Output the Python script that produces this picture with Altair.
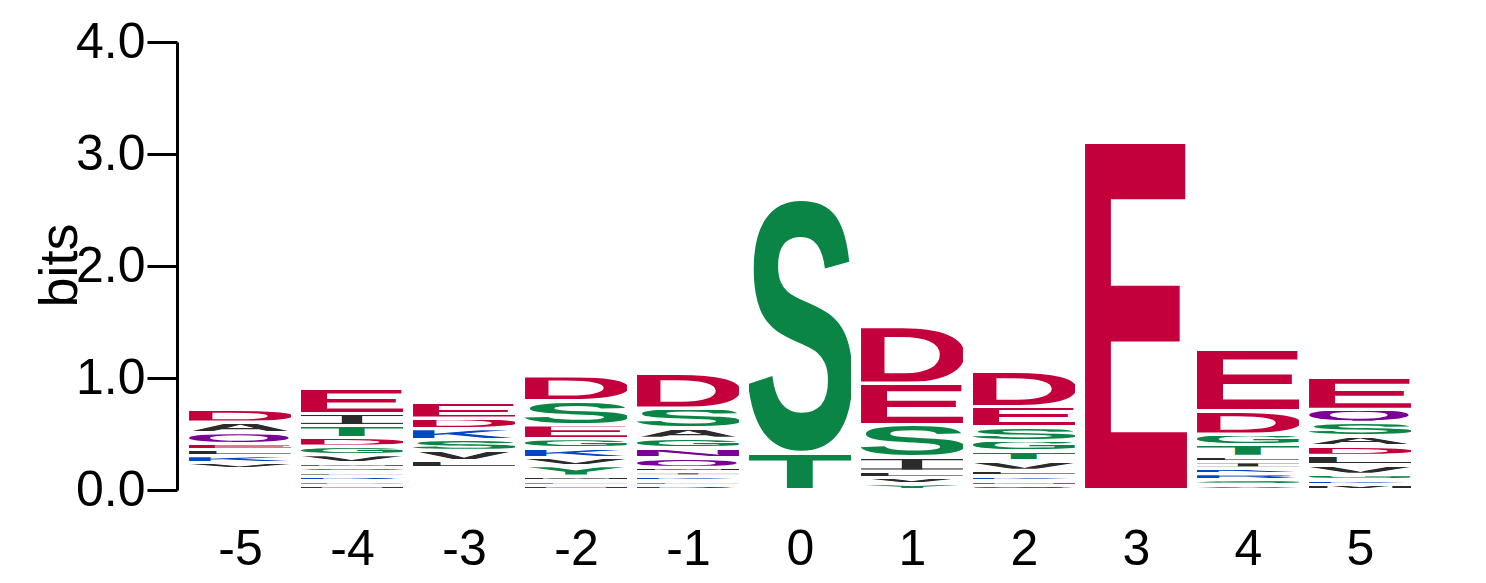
import base64
import altair as alt
import pandas as pd

# ---- data (bottom -> top in each column, heights in bits) ----
positions = [-5, -4, -3, -2, -1, 0, 1, 2, 3, 4, 5]

letters_m5 = ["V", "K", "L", "E", "Q", "A", "D"]
bits_m5 = [0.027, 0.033, 0.029, 0.027, 0.069, 0.069, 0.089]

letters_m4 = ["N", "P", "R", "L", "S", "M", "V", "G", "D", "T", "I", "E"]
bits_m4 = [0.013, 0.013, 0.013, 0.013, 0.013, 0.013, 0.045, 0.050, 0.051, 0.080, 0.080, 0.196]

letters_m3 = ["L", "V", "S", "K", "D", "E"]
bits_m3 = [0.040, 0.065, 0.069, 0.069, 0.069, 0.116]

letters_m2 = ["N", "L", "M", "Y", "V", "K", "G", "E", "S", "D"]
bits_m2 = [0.013, 0.013, 0.013, 0.065, 0.048, 0.060, 0.054, 0.096, 0.188, 0.196]

letters_m1 = ["R", "L", "K", "I", "M", "Q", "N", "G", "A", "S", "D"]
bits_m1 = [0.013, 0.013, 0.013, 0.013, 0.013, 0.059, 0.060, 0.060, 0.063, 0.152, 0.286]

letters_0 = ["T", "S"]
bits_0 = [0.295, 2.250]

letters_p1 = ["Y", "V", "L", "I", "S", "E", "D"]
bits_p1 = [0.024, 0.030, 0.029, 0.096, 0.268, 0.342, 0.482]

letters_p2 = ["Q", "N", "K", "L", "V", "T", "G", "S", "E", "D"]
bits_p2 = [0.012, 0.015, 0.015, 0.022, 0.060, 0.060, 0.065, 0.095, 0.156, 0.286]

letters_p3 = ["E"]
bits_p3 = [3.075]

letters_p4 = ["V", "S", "R", "K", "I", "L", "T", "G", "D", "E"]
bits_p4 = [0.015, 0.021, 0.024, 0.024, 0.029, 0.024, 0.078, 0.066, 0.183, 0.518]

letters_p5 = ["M", "K", "G", "V", "L", "D", "A", "S", "Q", "E"]
bits_p5 = [0.018, 0.014, 0.023, 0.060, 0.056, 0.060, 0.060, 0.096, 0.089, 0.259]

# bits at which each stack starts
stack_start = [0.205, 0.018, 0.210, 0.018, 0.018, 0.018, 0.018, 0.018, 0.018, 0.018, 0.018]

y_ticks = [0, 1, 2, 3, 4]

# ---- styling ----
RED, GREEN, BLUE, PURPLE, BLACK = "#C3003C", "#0A8545", "#0048C6", "#7B0096", "#2B2B2B"
COLOR = {}
for c in "DE":
    COLOR[c] = RED
for c in "STGYC":
    COLOR[c] = GREEN
for c in "KRH":
    COLOR[c] = BLUE
for c in "QN":
    COLOR[c] = PURPLE
for c in "AVLIPMFW":
    COLOR[c] = BLACK

# glyph metrics of a bold Arial-like face (xMin, xMax, advance) per 1000 em
BBOX = {'A': (0, 718, 722), 'D': (73, 670, 722), 'E': (73, 617, 667), 'G': (44, 719, 778),
        'K': (73, 732, 722), 'L': (76, 579, 611), 'M': (70, 761, 833), 'N': (74, 647, 722),
        'P': (74, 621, 667), 'Q': (40, 752, 778), 'R': (73, 717, 722), 'S': (34, 620, 667),
        'T': (22, 590, 611), 'V': (0, 667, 667), 'Y': (0, 667, 667), 'C': (44, 690, 722),
        'H': (73, 649, 722), 'F': (73, 570, 611), 'W': (0, 944, 944)}
CAP = 0.688
OVERSHOOT = 0.013  # round letters reach slightly above cap height and below baseline
ROUND = set("SGCQO")


def glyph_url(letter):
    col = COLOR[letter]
    if letter == "I":
        body = (f'<rect x="0" y="0" width="100" height="12" fill="{col}"/>'
                f'<rect x="40" y="0" width="20" height="100" fill="{col}"/>'
                f'<rect x="0" y="88" width="100" height="12" fill="{col}"/>')
    else:
        lsb, rsb, adv = BBOX[letter]
        bw = rsb - lsb
        if letter in ROUND:
            fs = 100 / (CAP + 2 * OVERSHOOT)
            base = 100 - OVERSHOOT * fs
        else:
            fs = 100 / CAP
            base = 100
        x = -100 * lsb / bw
        tl = 100 * adv / bw
        body = (f'<text x="{x:.2f}" y="{base:.2f}" font-family="Liberation Sans, Arial, Helvetica, sans-serif" '
                f'font-weight="bold" font-size="{fs:.2f}" fill="{col}" textLength="{tl:.2f}" '
                f'lengthAdjust="spacingAndGlyphs">{letter}</text>')
    svg = ('<svg xmlns="http://www.w3.org/2000/svg" width="100" height="100" viewBox="0 0 100 100" '
           f'preserveAspectRatio="none">{body}</svg>')
    return "data:image/svg+xml;base64," + base64.b64encode(svg.encode()).decode()


PLOT_W, PLOT_H = 1253, 448
PX_PER_BIT = PLOT_H / 4
GAP = 3 / PX_PER_BIT
HALF = 0.455

columns = [(letters_m5, bits_m5), (letters_m4, bits_m4), (letters_m3, bits_m3),
           (letters_m2, bits_m2), (letters_m1, bits_m1), (letters_0, bits_0),
           (letters_p1, bits_p1), (letters_p2, bits_p2), (letters_p3, bits_p3),
           (letters_p4, bits_p4), (letters_p5, bits_p5)]

rows = []
for pos, (lets, hts), start in zip(positions, columns, stack_start):
    y = start
    for L, h in zip(lets, hts):
        rows.append(dict(pos=pos, letter=L, x0=pos - HALF, x1=pos + HALF,
                         y0=y, y1=y + h, url=glyph_url(L)))
        y += h + GAP
df = pd.DataFrame(rows)

FONT = "Liberation Sans"

chart = alt.Chart(df).mark_image(aspect=False).encode(
    x=alt.X("x0:Q", scale=alt.Scale(domain=[-5.5625, 5.625], nice=False, zero=False),
            axis=alt.Axis(values=positions, labelExpr="'' + datum.value", title=None,
                          domain=False, ticks=False, grid=False, labelFontSize=50,
                          labelFont=FONT, labelColor="black", labelPadding=74,
                          labelBaseline="alphabetic", labelFlush=False)),
    x2="x1:Q",
    y=alt.Y("y1:Q", scale=alt.Scale(domain=[0, 4], nice=False),
            axis=alt.Axis(values=y_ticks, format=".1f", title="bits", grid=False,
                          tickSize=30, tickWidth=3, tickColor="black",
                          domainWidth=3, domainColor="black",
                          labelFontSize=50, labelFont=FONT, labelColor="black",
                          labelPadding=2, labelFlush=False,
                          titleFontSize=54, titleFont=FONT, titleFontWeight="normal",
                          titleColor="black", titleAngle=270, titleX=-101, titleY=223,
                          titleAlign="center", titleBaseline="alphabetic")),
    y2="y0:Q",
    url="url:N",
).properties(
    width=PLOT_W, height=PLOT_H,
    autosize=alt.AutoSizeParams(type="none"),
    padding={"left": 169, "top": 34, "right": 40, "bottom": 92},
).configure_view(stroke=None)

chart.save("out.html", embed_options={"renderer": "svg", "actions": False})
